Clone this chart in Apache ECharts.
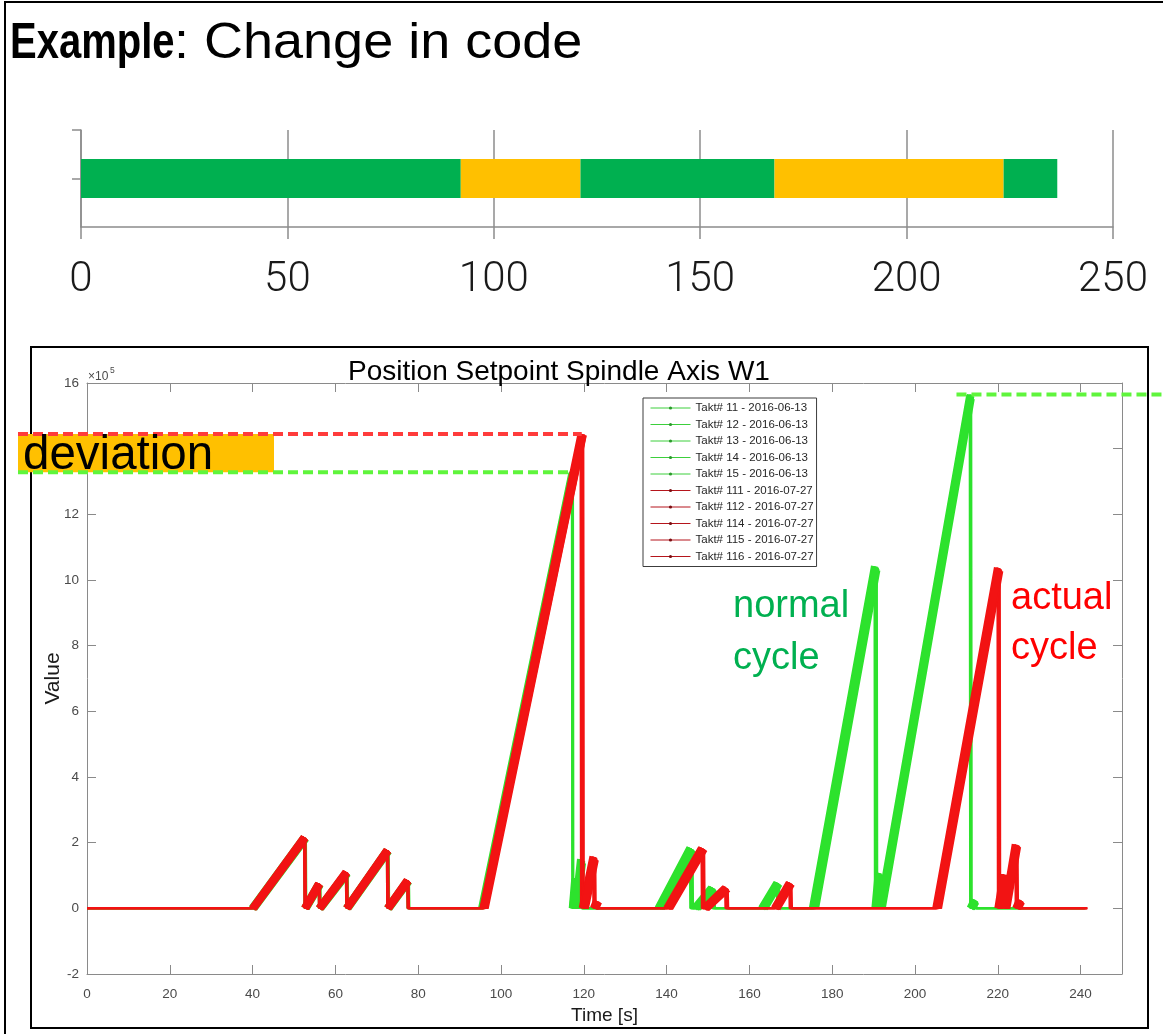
<!DOCTYPE html>
<html>
<head>
<meta charset="utf-8">
<title>Example: Change in code</title>
<script src="https://cdn.jsdelivr.net/npm/echarts@6/dist/echarts.min.js"></script>
<style>
  html, body { margin: 0; padding: 0; background: #ffffff; }
  #chart { width: 1163px; height: 1034px; }
</style>
</head>
<body>
<div id="chart"></div>
<script>
// ---------------------------------------------------------------
// Upper strip: consecutive phases of the machining cycle [s]
// ---------------------------------------------------------------
const phaseStates = ['normal', 'changed', 'normal', 'changed', 'normal'];
const phaseDurations = [92, 29, 47, 55.5, 13];
const phaseColors = { normal: '#00b050', changed: '#ffc000' };

// ---------------------------------------------------------------
// Lower plot: position setpoint of spindle axis W1, [time s, value x1e5]
// ---------------------------------------------------------------
const takt11 = [[0,0],[40.0,0],[52.6,2.15],[52.7,0],[56.0,0.74],[56.1,0],[62.6,1.08],[62.7,0],[72.5,1.76],[72.6,0],[77.4,0.84],[77.5,0],[95.5,0],[117.3,13.28],[117.4,0],[118.1,0.92],[118.2,0],[119.5,1.45],[119.6,0],[138.2,0],[145.8,1.83],[145.9,0],[147.0,0],[151.0,0.62],[151.1,0],[163.2,0],[166.8,0.77],[166.9,0],[175.5,0],[190.4,10.4],[190.5,0],[191.3,1.05],[191.4,0],[191.7,0],[213.4,15.65],[213.5,0],[214.5,0.25],[214.6,0],[241.0,0]];
const takt12 = [[0,0],[40.2,0],[52.8,2.13],[52.9,0],[56.2,0.73],[56.3,0],[62.8,1.07],[62.9,0],[72.7,1.75],[72.8,0],[77.6,0.83],[77.7,0],[95.7,0],[117.2,13.1],[117.3,0],[118.0,0.88],[118.1,0],[119.4,1.4],[119.5,0],[138.5,0],[146.0,1.8],[146.1,0],[147.3,0],[151.3,0.6],[151.4,0],[163.5,0],[167.0,0.75],[167.1,0],[175.8,0],[190.6,10.35],[190.7,0],[191.5,1.0],[191.6,0],[191.9,0],[213.3,15.5],[213.4,0],[214.6,0.22],[214.7,0],[241.1,0]];
const takt13 = [[0,0],[39.8,0],[52.4,2.16],[52.5,0],[55.9,0.75],[56.0,0],[62.5,1.09],[62.6,0],[72.4,1.77],[72.5,0],[77.3,0.85],[77.4,0],[95.3,0],[117.1,13.25],[117.2,0],[117.8,0.9],[117.9,0],[119.2,1.5],[119.3,0],[137.9,0],[145.6,1.84],[145.7,0],[146.7,0],[150.8,0.63],[150.9,0],[162.9,0],[166.6,0.78],[166.7,0],[175.2,0],[190.2,10.42],[190.3,0],[191.1,1.08],[191.2,0],[191.5,0],[213.2,15.62],[213.3,0],[214.3,0.26],[214.4,0],[240.9,0]];
const takt14 = [[0,0],[40.4,0],[52.9,2.12],[53.0,0],[56.4,0.72],[56.5,0],[63.0,1.06],[63.1,0],[72.9,1.74],[73.0,0],[77.8,0.82],[77.9,0],[95.9,0],[117.4,13.08],[117.5,0],[118.2,0.86],[118.3,0],[119.7,1.38],[119.8,0],[138.8,0],[146.3,1.79],[146.4,0],[147.6,0],[151.6,0.59],[151.7,0],[163.7,0],[167.2,0.74],[167.3,0],[176.0,0],[190.8,10.3],[190.9,0],[191.7,0.98],[191.8,0],[192.1,0],[213.6,15.52],[213.7,0],[214.8,0.2],[214.9,0],[241.2,0]];
const takt15 = [[0,0],[40.1,0],[52.7,2.14],[52.8,0],[56.1,0.74],[56.2,0],[62.7,1.08],[62.8,0],[72.6,1.76],[72.7,0],[77.5,0.84],[77.6,0],[95.6,0],[117.3,13.2],[117.4,0],[118.1,0.9],[118.2,0],[119.5,1.42],[119.6,0],[138.4,0],[145.9,1.82],[146.0,0],[147.1,0],[151.2,0.61],[151.3,0],[163.3,0],[166.9,0.76],[167.0,0],[175.6,0],[190.5,10.38],[190.6,0],[191.4,1.02],[191.5,0],[191.8,0],[213.5,15.6],[213.6,0],[214.6,0.24],[214.7,0],[241.0,0]];

const takt111 = [[0,0],[40.0,0],[52.5,2.16],[52.6,0],[56.0,0.75],[56.1,0],[62.6,1.1],[62.7,0],[72.5,1.77],[72.6,0],[77.4,0.85],[77.5,0],[95.8,0],[119.5,14.45],[119.6,0],[119.9,0],[122.4,1.56],[122.5,0],[123.2,0.2],[123.3,0],[140.3,0],[148.6,1.83],[148.7,0],[149.2,0],[154.3,0.62],[154.4,0],[166.2,0],[169.8,0.77],[169.9,0],[205.2,0],[220.1,10.35],[220.2,0],[221.5,1.02],[221.6,0],[221.8,0],[224.4,1.93],[224.5,0],[225.4,0.25],[225.5,0],[241.5,0]];
const takt112 = [[0,0],[40.2,0],[52.7,2.15],[52.8,0],[56.2,0.74],[56.3,0],[62.8,1.09],[62.9,0],[72.7,1.76],[72.8,0],[77.6,0.84],[77.7,0],[96.0,0],[119.8,14.4],[119.9,0],[120.2,0],[122.6,1.5],[122.7,0],[123.4,0.18],[123.5,0],[140.6,0],[148.9,1.81],[149.0,0],[149.5,0],[154.6,0.6],[154.7,0],[166.5,0],[170.0,0.75],[170.1,0],[205.5,0],[220.3,10.3],[220.4,0],[221.7,1.0],[221.8,0],[222.0,0],[224.6,1.9],[224.7,0],[225.6,0.22],[225.7,0],[241.6,0]];
const takt114 = [[0,0],[39.9,0],[52.4,2.17],[52.5,0],[55.9,0.76],[56.0,0],[62.5,1.11],[62.6,0],[72.4,1.78],[72.5,0],[77.3,0.86],[77.4,0],[95.6,0],[119.2,14.38],[119.3,0],[119.6,0],[122.2,1.58],[122.3,0],[123.0,0.22],[123.1,0],[140.0,0],[148.4,1.84],[148.5,0],[149.0,0],[154.1,0.63],[154.2,0],[166.0,0],[169.6,0.78],[169.7,0],[205.0,0],[219.9,10.38],[220.0,0],[221.3,1.04],[221.4,0],[221.6,0],[224.2,1.95],[224.3,0],[225.2,0.26],[225.3,0],[241.4,0]];
const takt115 = [[0,0],[40.3,0],[52.8,2.14],[52.9,0],[56.3,0.73],[56.4,0],[62.9,1.08],[63.0,0],[72.8,1.75],[72.9,0],[77.7,0.83],[77.8,0],[96.2,0],[119.9,14.42],[120.0,0],[120.4,0],[122.8,1.48],[122.9,0],[123.6,0.2],[123.7,0],[140.8,0],[149.1,1.8],[149.2,0],[149.7,0],[154.8,0.59],[154.9,0],[166.7,0],[170.2,0.74],[170.3,0],[205.7,0],[220.5,10.28],[220.6,0],[221.9,0.98],[222.0,0],[222.2,0],[224.8,1.88],[224.9,0],[225.8,0.2],[225.9,0],[241.7,0]];
const takt116 = [[0,0],[40.1,0],[52.6,2.15],[52.7,0],[56.1,0.75],[56.2,0],[62.7,1.1],[62.8,0],[72.6,1.77],[72.7,0],[77.5,0.85],[77.6,0],[95.9,0],[119.6,14.44],[119.7,0],[120.0,0],[122.5,1.54],[122.6,0],[123.3,0.21],[123.4,0],[140.4,0],[148.7,1.82],[148.8,0],[149.3,0],[154.4,0.61],[154.5,0],[166.3,0],[169.9,0.76],[170.0,0],[205.3,0],[220.2,10.33],[220.3,0],[221.6,1.01],[221.7,0],[221.9,0],[224.5,1.92],[224.6,0],[225.5,0.24],[225.6,0],[241.5,0]];

const normalRuns = [
  { name: 'Takt# 11 - 2016-06-13', data: takt11 },
  { name: 'Takt# 12 - 2016-06-13', data: takt12 },
  { name: 'Takt# 13 - 2016-06-13', data: takt13 },
  { name: 'Takt# 14 - 2016-06-13', data: takt14 },
  { name: 'Takt# 15 - 2016-06-13', data: takt15 }
];
const actualRuns = [
  { name: 'Takt# 111 - 2016-07-27', data: takt111 },
  { name: 'Takt# 112 - 2016-07-27', data: takt112 },
  { name: 'Takt# 114 - 2016-07-27', data: takt114 },
  { name: 'Takt# 115 - 2016-07-27', data: takt115 },
  { name: 'Takt# 116 - 2016-07-27', data: takt116 }
];

const GREEN = '#2de22d';
const RED = '#f21313';
const AXIS_GREY = '#8a8a8a';
const SANS = '"Liberation Sans", Arial, sans-serif';

// Rising stretches are sampled densely by the controller and show up as broad
// marker trails; the jumps between them are single steps.
function rampSegments(points) {
  const out = [];
  for (let i = 1; i < points.length; i++) {
    const a = points[i - 1], b = points[i];
    if (b[1] > a[1] && b[0] - a[0] > 0.2) {
      if (out.length) out.push([a[0], '-']);
      out.push(a, b);
    }
  }
  return out;
}

function peakOf(runs, tMin, tMax) {
  let best = null;
  runs.forEach(r => r.data.forEach(p => {
    if (p[0] >= tMin && p[0] <= tMax && (!best || p[1] > best[1])) best = p;
  }));
  return best;
}

function traceSeries(run, color) {
  return {
    type: 'line', name: run.name, xAxisIndex: 1, yAxisIndex: 2,
    data: run.data, symbol: 'circle', symbolSize: 3, showSymbol: false,
    lineStyle: { color: color, width: 2 }, itemStyle: { color: color },
    silent: true, animation: false
  };
}
function trailSeries(run, color) {
  return {
    type: 'line', name: run.name, xAxisIndex: 1, yAxisIndex: 2,
    data: rampSegments(run.data), symbol: 'none', connectNulls: false,
    lineStyle: { color: color, width: 7, cap: 'butt' },
    silent: true, animation: false
  };
}

const stripSeries = phaseDurations.map((d, i) => ({
  type: 'bar', name: phaseStates[i] + ' ' + (i + 1), stack: 'strip',
  xAxisIndex: 0, yAxisIndex: 1, barWidth: 39,
  data: [d], itemStyle: { color: phaseColors[phaseStates[i]] },
  silent: true, animation: false
}));

const plotSeries = [].concat(
  normalRuns.map(r => traceSeries(r, GREEN)),
  normalRuns.map(r => trailSeries(r, GREEN)),
  actualRuns.map(r => traceSeries(r, RED)),
  actualRuns.map(r => trailSeries(r, RED))
);

const legendData = [].concat(
  normalRuns.map(r => ({ name: r.name, lineStyle: { color: '#3ccf3c', width: 1 }, itemStyle: { color: '#2a9a2a' } })),
  actualRuns.map(r => ({ name: r.name, lineStyle: { color: '#b5151c', width: 1 }, itemStyle: { color: '#7a0d10' } }))
);

const greyLine = { color: AXIS_GREY, width: 1 };

const option = {
  backgroundColor: '#ffffff',
  animation: false,
  grid: [
    { left: 81, top: 130, width: 1032, height: 97 },
    { left: 87, top: 383, width: 1035, height: 591 }
  ],
  xAxis: [
    {
      gridIndex: 0, type: 'value', min: 0, max: 250, interval: 50,
      axisLine: { show: true, onZero: false, lineStyle: { color: '#8c8c8c', width: 1.5 } },
      axisTick: { show: true, length: 12, lineStyle: { color: '#8c8c8c', width: 1.5 } },
      splitLine: { show: true, lineStyle: { color: '#8c8c8c', width: 1.5 } },
      axisLabel: { fontFamily: 'Roboto', fontWeight: 300, fontSize: 42, lineHeight: 42,
                   color: '#1a1a1a', margin: 53, verticalAlign: 'middle' }
    },
    {
      gridIndex: 1, type: 'value', min: 0, max: 250, interval: 20, position: 'bottom',
      axisLine: { show: true, onZero: false, lineStyle: greyLine },
      axisTick: { show: true, inside: true, length: 9, lineStyle: greyLine },
      splitLine: { show: false },
      axisLabel: { fontFamily: SANS, fontSize: 13.5, color: '#4a4a4a', margin: 20,
                   verticalAlign: 'middle', showMaxLabel: false },
      name: 'Time [s]', nameLocation: 'middle', nameGap: 42, nameMoveOverlap: false,
      nameTextStyle: { fontFamily: SANS, fontSize: 19, color: '#1a1a1a', verticalAlign: 'middle' }
    },
    {
      gridIndex: 1, type: 'value', min: 0, max: 250, interval: 20, position: 'top',
      axisLine: { show: true, onZero: false, lineStyle: greyLine },
      axisTick: { show: true, inside: true, length: 9, lineStyle: greyLine },
      splitLine: { show: false }, axisLabel: { show: false }
    }
  ],
  yAxis: [
    {
      gridIndex: 0, type: 'value', min: 0, max: 2, interval: 1, position: 'left',
      axisLine: { show: true, onZero: false, lineStyle: { color: '#8c8c8c', width: 1.5 } },
      axisTick: { show: true, length: 9, customValues: [1, 2], lineStyle: { color: '#8c8c8c', width: 1.5 } },
      splitLine: { show: false }, axisLabel: { show: false }
    },
    { gridIndex: 0, type: 'category', data: ['cycle'], position: 'left', show: false },
    {
      gridIndex: 1, type: 'value', min: -2, max: 16, interval: 2, position: 'left',
      axisLine: { show: true, onZero: false, lineStyle: greyLine },
      axisTick: { show: true, inside: true, length: 9, lineStyle: greyLine },
      splitLine: { show: false },
      axisLabel: { fontFamily: SANS, fontSize: 13.5, color: '#4a4a4a', margin: 8 },
      name: 'Value', nameLocation: 'middle', nameGap: 34, nameMoveOverlap: false,
      nameTextStyle: { fontFamily: SANS, fontSize: 21, color: '#1a1a1a', verticalAlign: 'middle' }
    },
    {
      gridIndex: 1, type: 'value', min: -2, max: 16, interval: 2, position: 'right',
      axisLine: { show: true, onZero: false, lineStyle: greyLine },
      axisTick: { show: true, inside: true, length: 9, lineStyle: greyLine },
      splitLine: { show: false }, axisLabel: { show: false }
    }
  ],
  legend: {
    data: legendData, orient: 'vertical', left: 643, top: 398,
    itemWidth: 40, itemHeight: 4, itemGap: 4.5, padding: [4, 3, 4, 7],
    backgroundColor: '#ffffff', borderColor: '#3c3c3c', borderWidth: 1, borderRadius: 0,
    selectedMode: false,
    textStyle: { fontFamily: SANS, fontSize: 11.5, lineHeight: 12, color: '#262626' }
  },
  series: stripSeries.concat(plotSeries)
};

const chart = echarts.init(document.getElementById('chart'), null, { renderer: 'canvas', width: 1163, height: 1034 });
chart.setOption(option);

// Reference levels for the annotations, taken from the runs themselves
const actualPeak = peakOf(actualRuns, 90, 130);
const normalPeak = peakOf(normalRuns, 90, 130);
const normalPeakLate = peakOf(normalRuns, 200, 230);
const plotFinder = { seriesIndex: stripSeries.length };
const pA = chart.convertToPixel(plotFinder, actualPeak);
const pN = chart.convertToPixel(plotFinder, normalPeak);
const pL = chart.convertToPixel(plotFinder, normalPeakLate);

chart.setOption({
  graphic: [
    // slide frame
    { type: 'line', z: 50, shape: { x1: 4, y1: 2, x2: 1163, y2: 2 }, style: { stroke: '#000', lineWidth: 2 } },
    { type: 'line', z: 50, shape: { x1: 5, y1: 1, x2: 5, y2: 1034 }, style: { stroke: '#000', lineWidth: 2 } },
    // slide heading: condensed bold keyword, then the regular remainder
    {
      type: 'text', z: 50, x: 10, y: 44, scaleX: 0.8,
      style: { text: 'Example', fontFamily: SANS, fontSize: 50, fontWeight: 'bold', fill: '#000', verticalAlign: 'middle' }
    },
    {
      type: 'text', z: 50, x: 174, y: 44, scaleX: 1.08,
      style: { text: ': Change in code', fontFamily: SANS, fontSize: 50, fill: '#000', verticalAlign: 'middle' }
    },
    // figure window
    { type: 'rect', z: 1, shape: { x: 31, y: 347, width: 1117, height: 681 }, style: { fill: null, stroke: '#000', lineWidth: 2 } },
    {
      type: 'text', z: 50, x: 559, y: 372,
      style: { text: 'Position Setpoint Spindle Axis W1', fontFamily: SANS, fontSize: 28, fill: '#000',
               align: 'center', verticalAlign: 'middle' }
    },
    { type: 'text', z: 50, x: 88, y: 377, style: { text: '×10', fontFamily: SANS, fontSize: 12, fill: '#4a4a4a', verticalAlign: 'middle' } },
    { type: 'text', z: 50, x: 110, y: 371, style: { text: '5', fontFamily: SANS, fontSize: 8.5, fill: '#4a4a4a', verticalAlign: 'middle' } },
    // cycle annotations
    { type: 'text', z: 60, x: 733, y: 607, style: { text: 'normal', fontFamily: SANS, fontSize: 38, fill: '#00b050', verticalAlign: 'middle' } },
    { type: 'text', z: 60, x: 733, y: 659, style: { text: 'cycle', fontFamily: SANS, fontSize: 38, fill: '#00b050', verticalAlign: 'middle' } },
    { type: 'text', z: 60, x: 1011, y: 599, style: { text: 'actual', fontFamily: SANS, fontSize: 38, fill: '#ff0000', verticalAlign: 'middle' } },
    { type: 'text', z: 60, x: 1011, y: 649, style: { text: 'cycle', fontFamily: SANS, fontSize: 38, fill: '#ff0000', verticalAlign: 'middle' } },
    // deviation between the peak of the actual and the normal cycle
    { type: 'rect', z: 100, shape: { x: 18, y: pA[1], width: 256, height: pN[1] - pA[1] }, style: { fill: '#ffc000' } },
    { type: 'line', z: 101, shape: { x1: 18, y1: pA[1], x2: pA[0], y2: pA[1] }, style: { stroke: '#ff3b3b', lineWidth: 4, lineDash: [10, 5] } },
    { type: 'line', z: 101, shape: { x1: 18, y1: pN[1], x2: pN[0], y2: pN[1] }, style: { stroke: '#5ff53c', lineWidth: 4, lineDash: [10, 5] } },
    { type: 'line', z: 101, shape: { x1: pL[0] - 14, y1: pL[1], x2: 1163, y2: pL[1] }, style: { stroke: '#5ff53c', lineWidth: 4, lineDash: [10, 5] } },
    {
      type: 'text', z: 102, x: 23, y: (pA[1] + pN[1]) / 2 + 2.5,
      style: { text: 'deviation', fontFamily: SANS, fontSize: 47.5, fill: '#000', verticalAlign: 'middle' }
    }
  ]
});
</script>
</body>
</html>
